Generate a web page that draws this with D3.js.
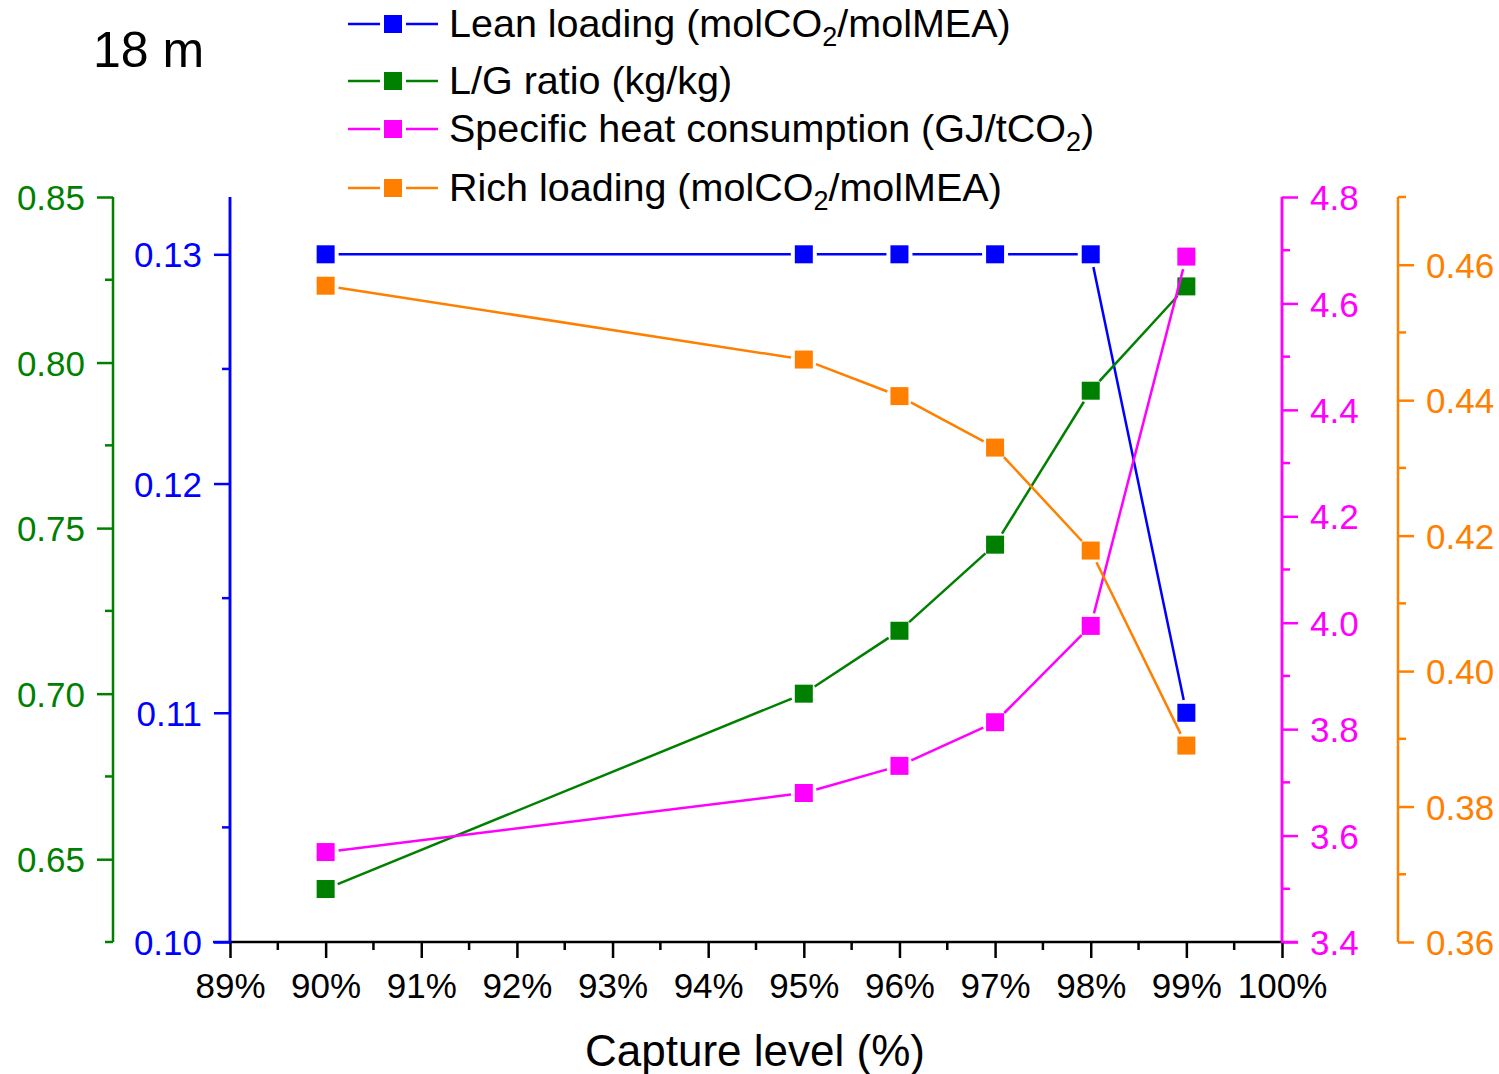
<!DOCTYPE html>
<html><head><meta charset="utf-8">
<script src="https://cdn.jsdelivr.net/npm/d3@7"></script>
<style>body{margin:0;background:#fff}svg{display:block}text{font-family:Arial,"Liberation Sans",sans-serif}</style>
</head><body>
<script>
const capture = [90, 95, 96, 97, 98, 99];
const leanLoading = [0.13, 0.13, 0.13, 0.13, 0.13, 0.11];
const lgRatio = [0.641, 0.700, 0.719, 0.745, 0.7915, 0.823];
const heatCons = [3.569, 3.680, 3.731, 3.813, 3.994, 4.688];
const richLoading = [0.4569, 0.446, 0.4406, 0.433, 0.4178, 0.389];
const xTicks = [89,90,91,92,93,94,95,96,97,98,99,100];
const greenTicks = [0.65,0.70,0.75,0.80,0.85];
const blueTicks = [0.10,0.11,0.12,0.13];
const magTicks = [3.4,3.6,3.8,4.0,4.2,4.4,4.6,4.8];
const orangeTicks = [0.36,0.38,0.40,0.42,0.44,0.46];
const legendLabels = ["Lean loading (molCO|2|/molMEA)", "L/G ratio (kg/kg)", "Specific heat consumption (GJ/tCO|2|)", "Rich loading (molCO|2|/molMEA)"];

const W=1499,H=1074, pTop=197, pBottom=942, pLeft=230, pRight=1282;
const C={blue:"#0000ff",green:"#008000",mag:"#ff00ff",orange:"#ff8000"};
const svg=d3.select("body").append("svg").attr("width",W).attr("height",H);

const x=d3.scaleLinear().domain([89,100]).range([pLeft,pRight]);
const yB=d3.scaleLinear().domain([0.10,0.1325]).range([pBottom,pTop]);
const yG=d3.scaleLinear().domain([0.625,0.85]).range([pBottom,pTop]);
const yM=d3.scaleLinear().domain([3.4,4.8]).range([pBottom,pTop]);
const yO=d3.scaleLinear().domain([0.36,0.47]).range([pBottom,pTop]);

function styleAxis(g,color,fs){
  g.select(".domain").remove();
  g.selectAll(".tick line").attr("stroke",color).attr("stroke-width",2.5);
  g.selectAll(".tick text").attr("fill",color).style("font-size",fs+"px").style("font-family","Arial, 'Liberation Sans', sans-serif");
}
function vAxis(pos,scale,ticks,minors,color,fmt,orient){
  const g=svg.append("g");
  const ax=(orient==="left"?d3.axisLeft(scale):d3.axisRight(scale)).tickValues(ticks).tickFormat(fmt).tickSize(16).tickPadding(12);
  g.attr("transform",`translate(${pos},0)`).call(ax);
  styleAxis(g,color,35);
  g.selectAll(".tick text").attr("dy","0.36em");
  const mg=svg.append("g").attr("transform",`translate(${pos},0)`);
  mg.selectAll("line").data(minors).join("line")
    .attr("x1",0).attr("x2",orient==="left"?-8:8).attr("y1",d=>scale(d)).attr("y2",d=>scale(d))
    .attr("stroke",color).attr("stroke-width",2.5);
  svg.append("line").attr("x1",pos).attr("x2",pos).attr("y1",pTop).attr("y2",pBottom).attr("stroke",color).attr("stroke-width",2.5);
}
vAxis(113,yG,greenTicks,[0.625,0.675,0.725,0.775,0.825],C.green,d3.format(".2f"),"left");
vAxis(pLeft,yB,blueTicks,[0.105,0.115,0.125],C.blue,d3.format(".2f"),"left");
vAxis(pRight,yM,magTicks,[3.5,3.7,3.9,4.1,4.3,4.5,4.7],C.mag,d3.format(".1f"),"right");
vAxis(1398,yO,orangeTicks,[0.37,0.39,0.41,0.43,0.45,0.47],C.orange,d3.format(".2f"),"right");

// x axis
const gx=svg.append("g").attr("transform",`translate(0,${pBottom})`)
  .call(d3.axisBottom(x).tickValues(xTicks).tickFormat(d=>d+"%").tickSize(16).tickPadding(15));
gx.select(".domain").remove();
gx.selectAll(".tick line").attr("stroke","#000").attr("stroke-width",2.5);
gx.selectAll(".tick text").attr("fill","#000").style("font-size","35px");
svg.append("g").selectAll("line").data(d3.range(89.5,100,1)).join("line")
  .attr("x1",d=>x(d)).attr("x2",d=>x(d)).attr("y1",pBottom).attr("y2",pBottom+8)
  .attr("stroke","#000").attr("stroke-width",2.5);
svg.append("line").attr("x1",pLeft).attr("x2",pRight).attr("y1",pBottom).attr("y2",pBottom).attr("stroke","#000").attr("stroke-width",2.5);
svg.append("line").attr("x1",pLeft).attr("x2",pLeft).attr("y1",pTop).attr("y2",pBottom+1).attr("stroke",C.blue).attr("stroke-width",2.5);
svg.append("line").attr("x1",pRight).attr("x2",pRight).attr("y1",pTop).attr("y2",pBottom+1).attr("stroke",C.mag).attr("stroke-width",2.5);
svg.append("line").attr("x1",pLeft-17).attr("x2",pLeft).attr("y1",pBottom).attr("y2",pBottom).attr("stroke",C.blue).attr("stroke-width",2.5);
svg.append("line").attr("x1",pRight).attr("x2",pRight+16).attr("y1",pBottom).attr("y2",pBottom).attr("stroke",C.mag).attr("stroke-width",2.5);

svg.append("text").attr("x",755).attr("y",1066).attr("text-anchor","middle").style("font-size","44px").text("Capture level (%)");
svg.append("text").attr("x",93).attr("y",67).style("font-size","50px").text("18 m");

// series
const series=[
  {vals:leanLoading,scale:yB,color:C.blue},
  {vals:lgRatio,scale:yG,color:C.green},
  {vals:heatCons,scale:yM,color:C.mag},
  {vals:richLoading,scale:yO,color:C.orange}
];
const gap=13, ms=18;
series.forEach(s=>{
  const pts=capture.map((c,i)=>[x(c),s.scale(s.vals[i])]);
  const g=svg.append("g");
  for(let i=0;i<pts.length-1;i++){
    const [x1,y1]=pts[i],[x2,y2]=pts[i+1];
    const L=Math.hypot(x2-x1,y2-y1); const ux=(x2-x1)/L, uy=(y2-y1)/L;
    g.append("line").attr("x1",x1+ux*gap).attr("y1",y1+uy*gap).attr("x2",x2-ux*gap).attr("y2",y2-uy*gap)
      .attr("stroke",s.color).attr("stroke-width",2.5);
  }
  g.selectAll("rect").data(pts).join("rect").attr("x",d=>d[0]-ms/2).attr("y",d=>d[1]-ms/2)
    .attr("width",ms).attr("height",ms).attr("fill",s.color);
});

// legend
const ly=[24,81,129,188];
legendLabels.forEach((lab,i)=>{
  const c=[C.blue,C.green,C.mag,C.orange][i];
  const g=svg.append("g");
  g.append("line").attr("x1",348).attr("x2",380).attr("y1",ly[i]).attr("y2",ly[i]).attr("stroke",c).attr("stroke-width",2.5);
  g.append("line").attr("x1",406).attr("x2",438).attr("y1",ly[i]).attr("y2",ly[i]).attr("stroke",c).attr("stroke-width",2.5);
  g.append("rect").attr("x",393-9).attr("y",ly[i]-9).attr("width",18).attr("height",18).attr("fill",c);
  const t=g.append("text").attr("x",449).attr("y",ly[i]+13).style("font-size","39.5px");
  const parts=lab.split("|");
  parts.forEach((p,j)=>{
    if(j%2===1){ t.append("tspan").attr("dy",9).style("font-size","27px").text(p); }
    else if(j>0){ t.append("tspan").attr("dy",-9).text(p); }
    else t.append("tspan").text(p);
  });
});
</script>
</body></html>
